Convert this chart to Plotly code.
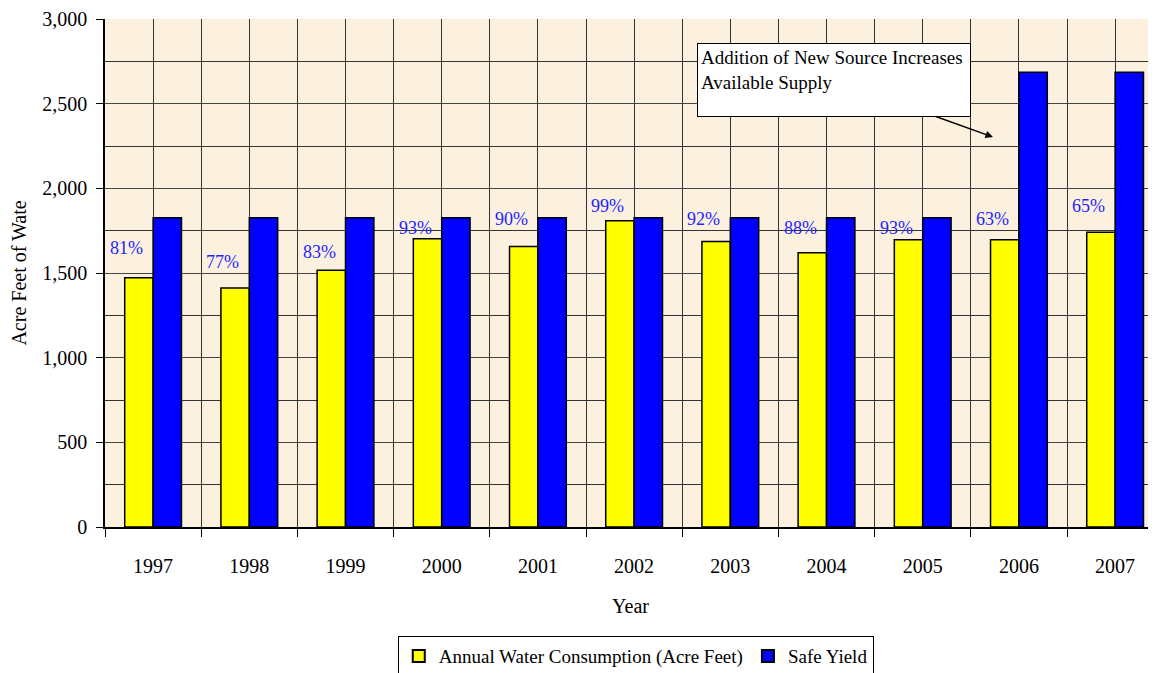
import plotly.graph_objects as go

years = ["1997", "1998", "1999", "2000", "2001", "2002", "2003", "2004", "2005", "2006", "2007"]
consumption = [1472, 1412, 1516, 1702, 1657, 1808, 1686, 1620, 1697, 1697, 1740]
safe_yield = [1826, 1826, 1826, 1826, 1826, 1826, 1826, 1826, 1826, 2686, 2686]
pct_labels = ["81%", "77%", "83%", "93%", "90%", "99%", "92%", "88%", "93%", "63%", "65%"]
pct_label_y = [1645, 1565, 1625, 1765, 1820, 1895, 1820, 1765, 1765, 1820, 1895]

xs = list(range(len(years)))
FONT = "Liberation Serif"

fig = go.Figure()
fig.add_trace(go.Bar(x=xs, y=consumption, name="Annual Water Consumption (Acre Feet)",
                     marker=dict(color="#FFFF00", line=dict(color="black", width=1.5))))
fig.add_trace(go.Bar(x=xs, y=safe_yield, name="Safe Yield",
                     marker=dict(color="#0000FF", line=dict(color="black", width=1.5))))

for i, (t, yv) in enumerate(zip(pct_labels, pct_label_y)):
    fig.add_annotation(x=i - 0.15, y=yv, text=t, showarrow=False, xshift=-12,
                       font=dict(family=FONT, size=18, color="#1F1FFF"))

fig.add_annotation(x=8.73, y=2303, xref="x", yref="y",
                   text="Addition of New Source Increases<br>Available Supply",
                   showarrow=True, ax=-159, ay=-57, arrowhead=2, arrowsize=1, arrowwidth=1.5,
                   arrowcolor="black", align="left", valign="top", width=266, height=66,
                   bgcolor="white", bordercolor="black", borderwidth=1, borderpad=3,
                   font=dict(family=FONT, size=19, color="black"))

# page body has an 8px margin, so the figure is sized/offset to compensate
fig.update_layout(
    width=1148, height=665,
    margin=dict(l=97, r=0, t=11, b=146, autoexpand=False),
    paper_bgcolor="white", plot_bgcolor="#FBF1DE",
    barmode="group", bargap=0.41, bargroupgap=0,
    font=dict(family=FONT, size=20, color="black"),
    showlegend=True,
    legend=dict(orientation="h", x=0.505, xanchor="center", y=-0.215, yanchor="top",
                bordercolor="black", borderwidth=1, bgcolor="white",
                font=dict(family=FONT, size=19), itemsizing="constant",
                tracegroupgap=0, itemwidth=30),
)
fig.update_xaxes(
    range=[-0.5, 10.425], tickmode="array", tickvals=xs, ticktext=years,
    ticks="", showgrid=True, gridcolor="#333333", gridwidth=1,
    showline=True, linecolor="black", linewidth=1.5, zeroline=False,
    ticklabelstandoff=20, automargin=False,
    minor=dict(tickmode="linear", tick0=0.5, dtick=1, ticks="outside", ticklen=8,
               tickcolor="black", showgrid=True, gridcolor="#333333", gridwidth=1),
    title=dict(text="Year", standoff=23, font=dict(family=FONT, size=20)),
    tickfont=dict(family=FONT, size=20),
)
fig.update_yaxes(
    range=[0, 3000], tickmode="linear", tick0=0, dtick=500, tickformat=",d",
    ticks="outside", ticklen=7, tickcolor="black",
    showgrid=True, gridcolor="#444444", gridwidth=1,
    showline=True, linecolor="black", linewidth=1.5, zeroline=False,
    automargin=False, ticklabelstandoff=5,
    minor=dict(dtick=250, showgrid=True, gridcolor="#333333", gridwidth=1, ticks=""),
    title=dict(text="Acre Feet of Wate", standoff=10, font=dict(family=FONT, size=20)),
    tickfont=dict(family=FONT, size=20),
)

fig.write_html("out.html")
